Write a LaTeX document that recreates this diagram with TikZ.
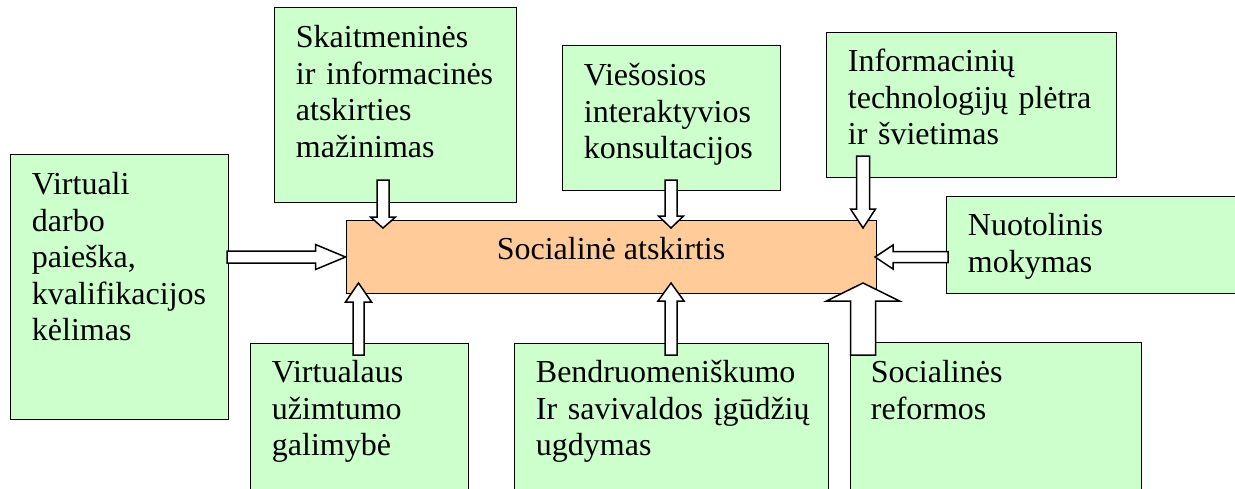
\documentclass[tikz,border=0pt]{standalone}
\usepackage{fontspec}
\setmainfont{Liberation Serif}
\usetikzlibrary{calc,fit}

\definecolor{boxgreen}{HTML}{CCFFCC}
\definecolor{boxorange}{HTML}{FFCC99}

\tikzset{
  gbox/.style={draw=black, line width=0.5pt, fill=boxgreen, inner sep=0pt},
  obox/.style={draw=black, line width=0.5pt, fill=boxorange, inner sep=0pt},
  boxtext/.style={anchor=base west, inner sep=0pt, text width=150pt, align=left},
  blockarrow/.style={draw=black, fill=white, line width=0.75pt, line join=miter}
}

% block arrow: from, to, half shaft, half head, head length
\newcommand{\blkarrow}[5]{%
  \draw[blockarrow] ($(#1)!#3!90:(#2)$) -- ($(#2)!#5!(#1)!#3!90:(#2)$)
    -- ($(#2)!#5!(#1)!#4!90:(#2)$) -- (#2) -- ($(#2)!#5!(#1)!#4!-90:(#2)$)
    -- ($(#2)!#5!(#1)!#3!-90:(#2)$) -- ($(#1)!#3!-90:(#2)$) -- cycle;}

\begin{document}
\begin{tikzpicture}[x=0.5pt, y=-0.5pt, font=\fontsize{16}{18.3}\selectfont]

        \useasboundingbox (0,0) rectangle (1235,488);
        \clip (0,0) rectangle (1235,488);

        % Outer boxes
        \node[gbox, fit={(10,154) (228,419)}] (virt) {};
        \node[gbox, fit={(274,7) (516,202)}] (skait) {};
        \node[gbox, fit={(562,45) (780,190)}] (vies) {};
        \node[gbox, fit={(826,32) (1116,177)}] (info) {};
        \node[gbox, fit={(946,196) (1250,293)}] (nuot) {};
        \node[gbox, fit={(250,343) (468,500)}] (uzim) {};
        \node[gbox, fit={(514,343) (828,500)}] (bendr) {};
        \node[gbox, fit={(850,342) (1141,500)}] (refor) {};

        % Box texts
        \node[boxtext] (virt-txt) at ([shift={(22,41)}]virt.north west)
          {Virtuali\\darbo\\paieška,\\kvalifikacijos\\kėlimas};
        \node[boxtext] (skait-txt) at ([shift={(22,41)}]skait.north west)
          {Skaitmeninės\\ir informacinės\\atskirties\\mažinimas};
        \node[boxtext] (vies-txt) at ([shift={(22,41)}]vies.north west)
          {Viešosios\\interaktyvios\\konsultacijos};
        \node[boxtext] (info-txt) at ([shift={(22,40)}]info.north west)
          {Informacinių\\technologijų plėtra\\ir švietimas};
        \node[boxtext] (nuot-txt) at ([shift={(22,40)}]nuot.north west)
          {Nuotolinis\\mokymas};
        \node[boxtext] (uzim-txt) at ([shift={(22,40)}]uzim.north west)
          {Virtualaus\\užimtumo\\galimybė};
        \node[boxtext] (bendr-txt) at ([shift={(22,40)}]bendr.north west)
          {Bendruomeniškumo\\Ir savivaldos įgūdžių\\ugdymas};
        \node[boxtext] (refor-txt) at ([shift={(21,41)}]refor.north west)
          {Socialinės\\reformos};

        % Central box
        \node[obox, fit={(346,220) (876,293)}] (soc) {};
        \node[anchor=base] (soc-txt) at (611,259) {Socialinė atskirtis};

        % Arrow ends
        \coordinate (virt-out) at (227,257);   \coordinate (virt-in) at (soc.west |- virt-out);
        \coordinate (skait-out) at (383,180);  \coordinate (skait-in) at (383,228);
        \coordinate (vies-out) at (671,180);   \coordinate (vies-in) at (671,228);
        \coordinate (info-out) at (863,156);   \coordinate (info-in) at (863,228);
        \coordinate (nuot-out) at (948,257);   \coordinate (nuot-in) at (875,257);
        \coordinate (uzim-out) at (358.5,355); \coordinate (uzim-in) at (358.5,283);
        \coordinate (bendr-out) at (671,355);  \coordinate (bendr-in) at (671,283);
        \coordinate (refor-out) at (863,355);  \coordinate (refor-in) at (863,283);

        % Block arrows
        \blkarrow{virt-out}{virt-in}{3pt}{6.25pt}{15pt}
        \blkarrow{skait-out}{skait-in}{3pt}{6.25pt}{5.5pt}
        \blkarrow{vies-out}{vies-in}{3pt}{6.25pt}{6pt}
        \blkarrow{info-out}{info-in}{3.25pt}{6.25pt}{9.5pt}
        \blkarrow{nuot-out}{nuot-in}{2.75pt}{6pt}{9pt}
        \blkarrow{uzim-out}{uzim-in}{2.75pt}{6.5pt}{9.5pt}
        \blkarrow{bendr-out}{bendr-in}{3pt}{6.5pt}{9pt}
        \blkarrow{refor-out}{refor-in}{6.25pt}{18.25pt}{9pt}
    \end{tikzpicture}
\end{document}
